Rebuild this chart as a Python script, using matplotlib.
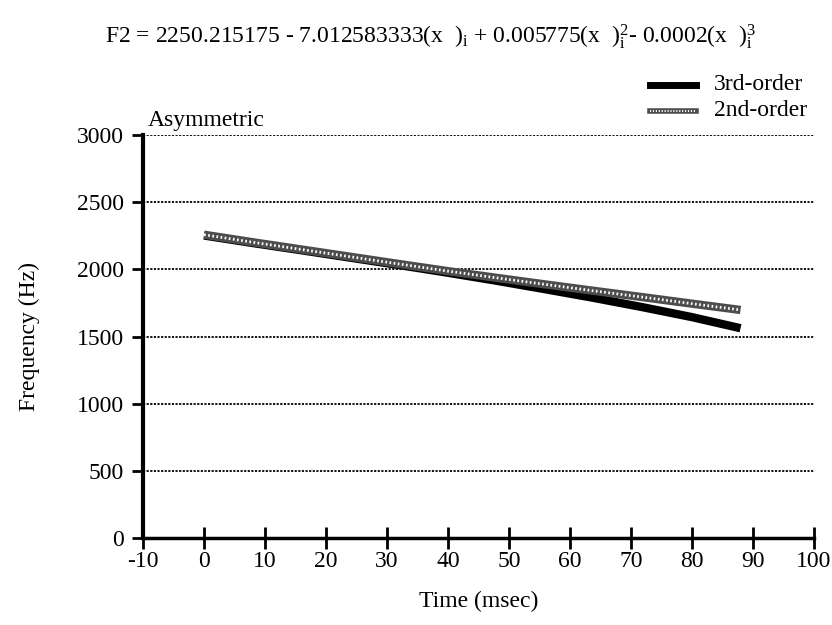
import matplotlib
matplotlib.use("Agg")
import matplotlib.pyplot as plt

plt.rcParams['font.family'] = ['Liberation Serif', 'DejaVu Serif']
plt.rcParams['mathtext.fontset'] = 'custom'
plt.rcParams['mathtext.rm'] = 'Liberation Serif'
plt.rcParams['mathtext.it'] = 'Liberation Serif'
plt.rcParams['axes.unicode_minus'] = False

# Time points (msec) and fitted F2 trajectories (Hz)
time_ms = [0, 8, 16, 24, 32, 40, 48, 56, 64, 72, 80, 88]
third_order = [2252, 2196, 2142, 2087, 2032, 1975, 1915, 1852, 1787, 1718, 1645, 1562]
second_order = [2258, 2202, 2148, 2094, 2040, 1987, 1937, 1888, 1840, 1793, 1745, 1698]

x_ticks = [-10, 0, 10, 20, 30, 40, 50, 60, 70, 80, 90, 100]
y_ticks = [0, 500, 1000, 1500, 2000, 2500, 3000]

fig = plt.figure(figsize=(8.32, 6.25), dpi=100)
ax = fig.add_axes([0.172, 0.139, 0.806, 0.645])
ax.set_xlim(-10, 100)
ax.set_ylim(0, 3000)

# dotted horizontal gridlines
for yv in y_ticks[1:]:
    ax.axhline(yv, color='black', lw=1.3, ls=(0, (1.2, 0.8)), zorder=1)

# 2nd-order: textured gray band
ax.plot(time_ms, second_order, color='0.3', lw=6, solid_capstyle='butt', zorder=3)
ax.plot(time_ms, second_order, color='white', lw=2.0, ls=(0, (0.6, 0.9)), zorder=3.5)
# 3rd-order: solid black
ax.plot(time_ms, third_order, color='black', lw=6, solid_capstyle='butt', zorder=2)

for side in ['top', 'right']:
    ax.spines[side].set_visible(False)
ax.spines['left'].set_linewidth(3)
ax.spines['bottom'].set_linewidth(2.5)

ax.set_xticks(x_ticks)
ax.set_yticks(y_ticks)
ax.tick_params(axis='x', direction='inout', length=16, width=2, labelsize=17, pad=1)
ax.tick_params(axis='y', direction='out', length=8, width=2, labelsize=17, pad=6)

ax.set_xlabel('Time (msec)', fontsize=17, labelpad=14)
ax.set_ylabel('Frequency (Hz)', fontsize=17, labelpad=26)

ax.text(-9.3, 3030, 'Asymmetric', fontsize=17, ha='left', va='bottom')

# legend drawn by hand in figure coordinates
fig.lines.append(plt.Line2D([0.781, 0.836], [0.864, 0.864], color='black', lw=5,
                            transform=fig.transFigure))
fig.lines.append(plt.Line2D([0.781, 0.836], [0.823, 0.823], color='0.3', lw=4,
                            transform=fig.transFigure))
fig.lines.append(plt.Line2D([0.781, 0.836], [0.823, 0.823], color='white', lw=1.4,
                            ls=(0, (0.6, 0.9)), transform=fig.transFigure))
fig.text(0.858, 0.864, '3rd-order', fontsize=17, va='center', ha='left')
fig.text(0.858, 0.823, '2nd-order', fontsize=17, va='center', ha='left')

title = (r'F2 = 2250.215175 - 7.012583333(x  )$_{\mathrm{i}}$ + 0.005775(x  )'
         r'$^{\mathrm{2}}_{\mathrm{i}}$- 0.0002(x  )$^{\mathrm{3}}_{\mathrm{i}}$')
fig.text(0.517, 0.942, title, fontsize=17, ha='center', va='center')

fig.savefig('out.png', dpi=100)
